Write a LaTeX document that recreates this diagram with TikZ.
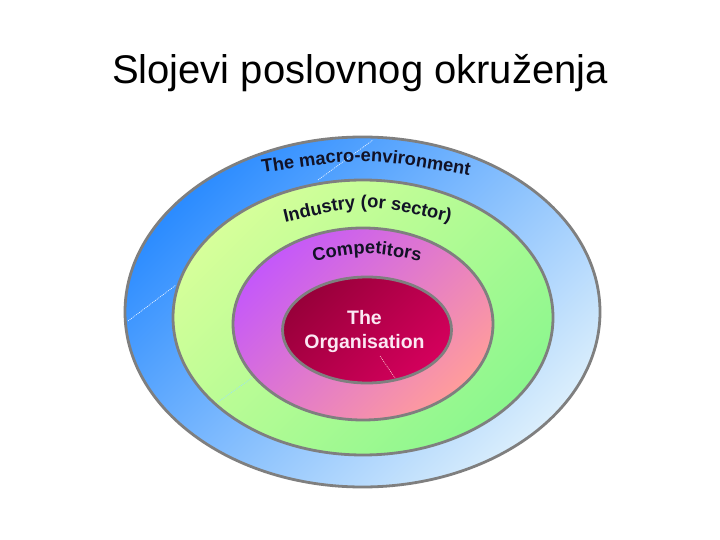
\documentclass[tikz,border=0pt]{standalone}
\usepackage{fontspec}
\setmainfont{Liberation Sans}
\setsansfont{Liberation Sans}
\usetikzlibrary{decorations.text}
\definecolor{ringgray}{HTML}{7F7F7F}
\definecolor{blueA}{HTML}{2C8CFF}
\definecolor{blueB}{HTML}{DAEEFC}
\definecolor{greenA}{HTML}{D6FF9A}
\definecolor{greenB}{HTML}{8CF78E}
\definecolor{pinkA}{HTML}{C458FA}
\definecolor{pinkB}{HTML}{FF9C9C}
\definecolor{redA}{HTML}{98003A}
\definecolor{redB}{HTML}{D4005C}
\definecolor{arcink}{HTML}{121226}
\definecolor{orgtext}{HTML}{FBE8F3}
\newcommand\arcfont{\bfseries\fontsize{18.3}{18}\selectfont}
\begin{document}
\begin{tikzpicture}[x=1pt,y=-1pt,
  ring/.style={draw=ringgray, line width=2.8pt},
  arctext/.style={decorate, decoration={text along path, text align=center, text color=arcink}},
  artifact/.style={line width=0.6pt, dash pattern=on 1pt off 1pt}]
\fill[white] (0,0) rectangle (720,540);
\useasboundingbox (0,0) rectangle (720,540);
\node[anchor=base, font=\fontsize{40}{44}\selectfont, inner sep=0pt] (title) at (360,83.5) {Slojevi poslovnog okruženja};
% outer ring
\path[ring, top color=blueA, bottom color=blueB, shading angle=45] (362.5,312) ellipse [x radius=237.5pt, y radius=175pt];
\draw[artifact, white] (318,180) -- (373,140);
\draw[artifact, white] (128,321) -- (176,285);
% industry ring
\path[ring, top color=greenA, bottom color=greenB, shading angle=45] (363,317.5) ellipse [x radius=190pt, y radius=137.5pt];
\draw[artifact, blue!30!cyan!40] (218,402) -- (252,378);
% competitors ring
\path[ring, top color=pinkA, bottom color=pinkB, shading angle=45] (363,324) ellipse [x radius=130pt, y radius=96pt];
% organisation
\path[ring, top color=redA, bottom color=redB, shading angle=45] (367,330) ellipse [x radius=84.5pt, y radius=53pt];
\draw[artifact, pink!70!white] (380,356) -- (395,378);
\node[font=\bfseries\fontsize{19.5}{24}\selectfont, text=orgtext, align=center, inner sep=0pt] (org) at (364.5,331) {The\\Organisation};
% curved labels
\path[arctext, decoration={text={|\arcfont|The macro-environment}}] (256,174) .. controls (365,157) .. (476,177);
\path[arctext, decoration={text={|\arcfont|Industry (or sector)}}] (282,223) .. controls (367,203) .. (453,223);
\path[arctext, decoration={text={|\arcfont|Competitors}}] (309,262) .. controls (367,251) .. (425,262);
\end{tikzpicture}
\end{document}
